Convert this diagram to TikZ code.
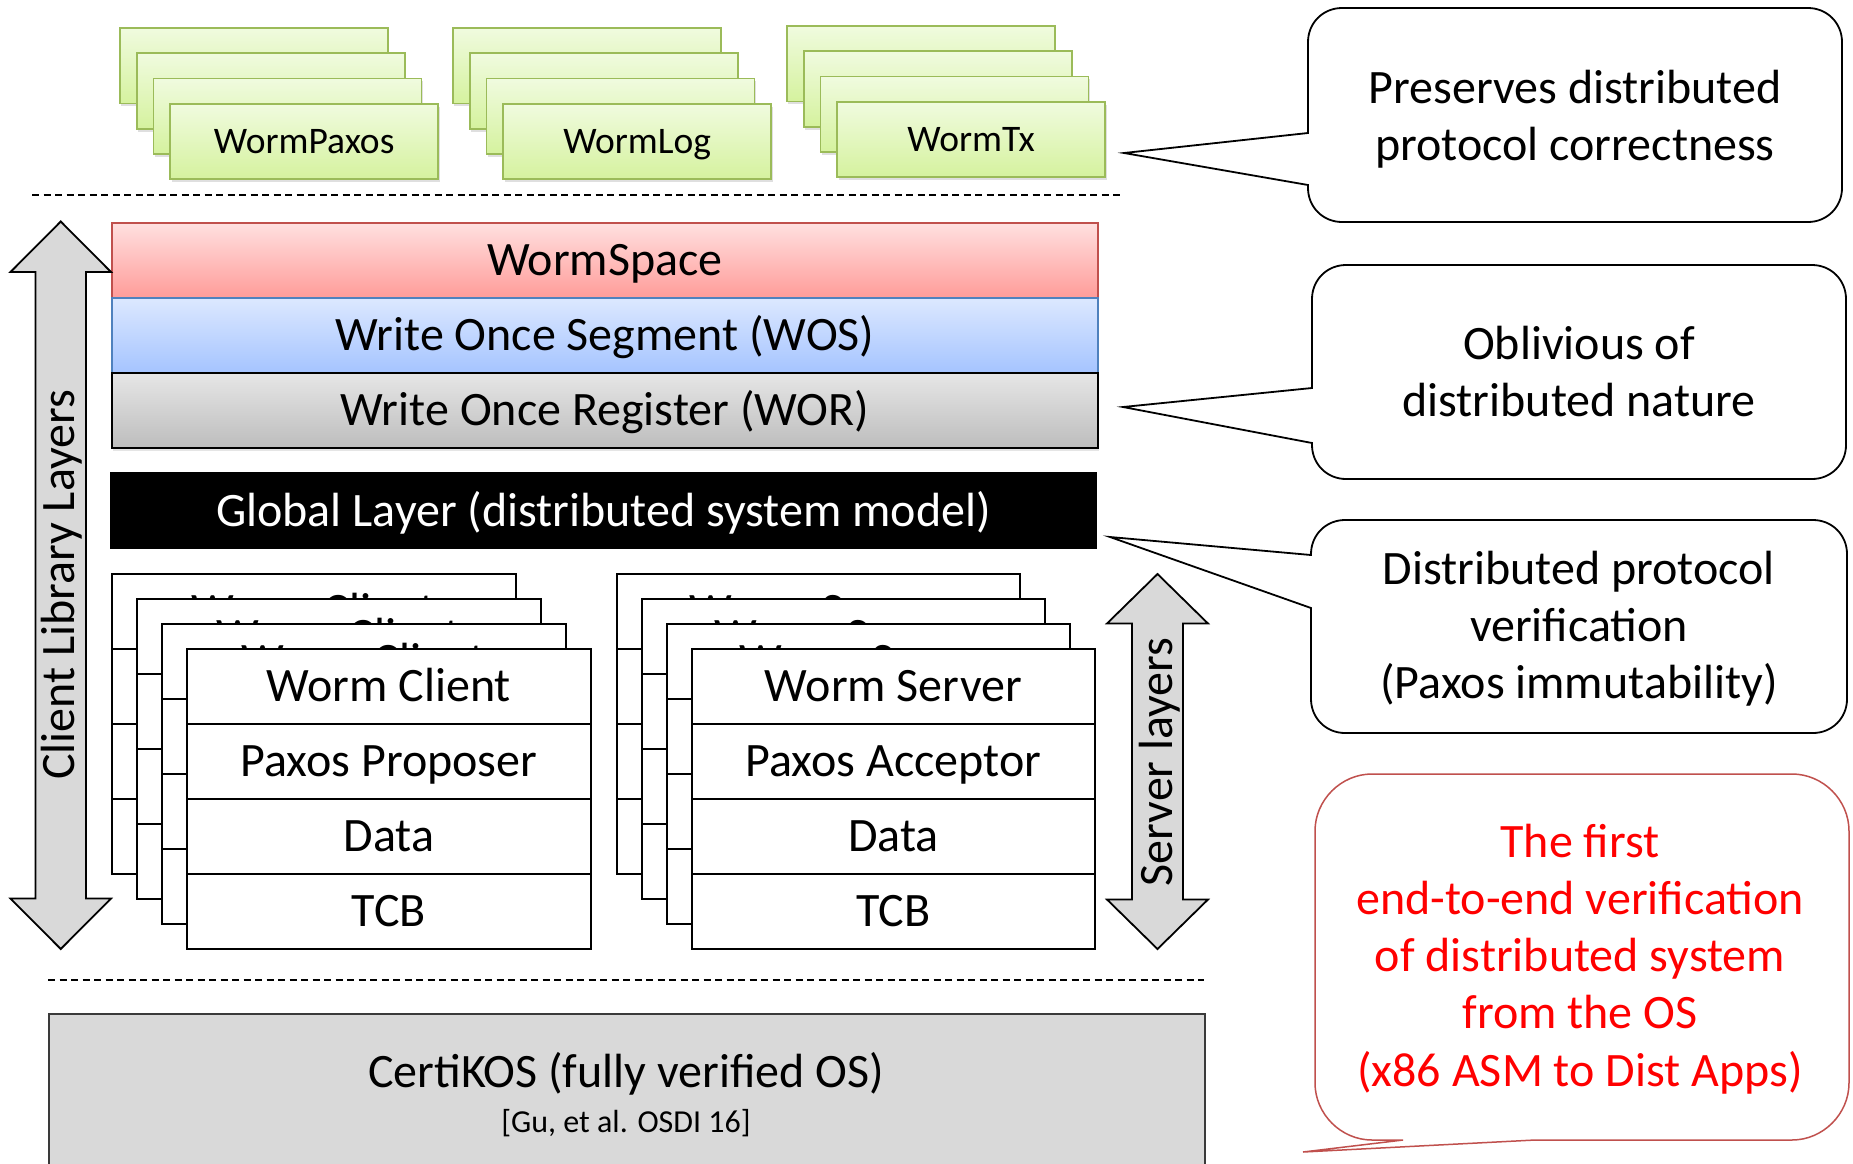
\documentclass[tikz,border=0pt]{standalone}
\usepackage{fontspec}
\setmainfont{Carlito}
\usetikzlibrary{shadows}
\definecolor{grnline}{HTML}{9BBB59}
\definecolor{grntop}{HTML}{F0FBDF}
\definecolor{grnbot}{HTML}{D5F29E}
\definecolor{redline}{HTML}{C0504D}
\definecolor{redtop}{HTML}{FFE0E0}
\definecolor{redbot}{HTML}{FF9C99}
\definecolor{blueline}{HTML}{4F81BD}
\definecolor{bluetop}{HTML}{DCE8FF}
\definecolor{bluebot}{HTML}{A5C4FF}
\definecolor{graytop}{HTML}{E6E6E6}
\definecolor{graybot}{HTML}{BDBDBD}
\definecolor{arrowgray}{HTML}{D9D9D9}
\definecolor{certfill}{HTML}{D9D9D9}
\definecolor{certline}{HTML}{3A3A3A}
\definecolor{calred}{HTML}{C0504D}
\definecolor{txtred}{HTML}{FF0000}
\begin{document}
\begin{tikzpicture}[x=1pt,y=-1pt,
  bigfont/.style={font=\fontsize{48}{58}\selectfont},
  grn/.style={draw=grnline, line width=1.8pt, top color=grntop, bottom color=grnbot,
    minimum width=268pt, minimum height=75.5pt, inner sep=0pt, anchor=north west,
    text height=23.5pt, text depth=0pt, font=\fontsize{37.5}{45}\selectfont,
    drop shadow={shadow xshift=1.5pt, shadow yshift=-3pt, opacity=0.25}},
  lay/.style={line width=1.8pt, minimum width=986pt, minimum height=75pt,
    inner sep=0pt, anchor=north west, text height=31pt, text depth=0pt, bigfont,
    drop shadow={shadow xshift=1pt, shadow yshift=-3pt, opacity=0.2}},
  rowbox/.style={draw=black, line width=1.8pt, fill=white, minimum width=404pt,
    minimum height=75pt, inner sep=0pt, anchor=north west, text height=31pt,
    text depth=0pt, bigfont},
  dblarrow/.style={draw=black, line width=1.8pt, fill=arrowgray, line join=miter},
  sepline/.style={dash pattern=on 7pt off 4.5pt, line width=1.8pt},
  callout/.style={draw=black, line width=1.8pt, fill=white, line join=miter},
  ctext/.style={anchor=base, inner sep=0pt, bigfont},
  vtext/.style={anchor=base, inner sep=0pt, rotate=90, bigfont}
]
\path[use as bounding box, fill=white] (0,0) rectangle (1853,1163);

% ---- top application stacks ----
\foreach \sx/\sy/\lab/\nm in {119/27/WormPaxos/p, 452/27/WormLog/l, 786/25/WormTx/t} {
  \foreach \i in {0,1,2} {
    \node[grn] (g\nm\i) at ({\sx+16.75*\i},{\sy+25.25*\i}) {};
  }
  \node[grn] (g\nm3) at ({\sx+50.25},{\sy+75.75}) {\lab};
}

% ---- separators ----
\coordinate (d1a) at (32,195);  \coordinate (d1b) at (1123,195);
\draw[sepline] (d1a) -- (d1b);
\coordinate (d2a) at (48,980);  \coordinate (d2b) at (1204,980);
\draw[sepline] (d2a) -- (d2b);

% ---- client library layers ----
\node[lay, draw=redline, top color=redtop, bottom color=redbot] (ws) at (111,222) {WormSpace};
\node[lay, draw=blueline, top color=bluetop, bottom color=bluebot] (wos) at (111,297) {Write Once Segment (WOS)};
\node[lay, draw=black, top color=graytop, bottom color=graybot] (wor) at (111,372) {Write Once Register (WOR)};
\node[draw=black, fill=black, text=white, line width=1pt, minimum width=986pt, minimum height=76pt,
  inner sep=0pt, anchor=north west, text height=31pt, text depth=0pt, bigfont] (gl) at (110,472)
  {Global Layer (distributed system model)};

% ---- client / server stacks ----
\foreach \i in {0,...,3} {
  \foreach \tx [count=\rr from 0] in {Worm Client,Paxos Proposer,Data,TCB}
    \node[rowbox] (c\i\rr) at ({111+25*\i},{573+25*\i+75*\rr}) {\tx};
  \foreach \tx [count=\rr from 0] in {Worm Server,Paxos Acceptor,Data,TCB}
    \node[rowbox, minimum width=403pt] (s\i\rr) at ({616+25*\i},{573+25*\i+75*\rr}) {\tx};
}

% ---- double arrows ----
\draw[dblarrow] (60.75,221.5) -- (111,272) -- (86,272) -- (86,898.5) -- (111,898.5)
  -- (60.75,949) -- (10.5,898.5) -- (35.5,898.5) -- (35.5,272) -- (10.5,272) -- cycle;
\node[vtext] (cll) at (74,585) {Client Library Layers};
\draw[dblarrow] (1157.5,574) -- (1208,623.5) -- (1183,623.5) -- (1183,899.5) -- (1208,899.5)
  -- (1157.5,949) -- (1107,899.5) -- (1132,899.5) -- (1132,623.5) -- (1107,623.5) -- cycle;
\node[vtext] (svl) at (1172,762) {Server layers};

% ---- CertiKOS ----
\node[draw=certline, fill=certfill, line width=1.8pt, minimum width=1156pt, minimum height=165pt,
  anchor=north west, inner sep=0pt] (os) at (48,1013) {};
\node[ctext] (ostxt) at (626,1087) {CertiKOS (fully verified OS)};
\node[anchor=base, inner sep=0pt, font=\fontsize{32}{38}\selectfont] (cite) at (626,1132) {[Gu, et al. OSDI 16]};

% ---- callouts ----
\coordinate (t1) at (1124,153);
\draw[callout] (1308,133) -- (1308,42) .. controls (1308,23) and (1323,8) .. (1342,8)
  -- (1808,8) .. controls (1827,8) and (1842,23) .. (1842,42)
  -- (1842,188) .. controls (1842,207) and (1827,222) .. (1808,222)
  -- (1342,222) .. controls (1323,222) and (1308,207) .. (1308,188)
  -- (1308,185) -- (t1) -- cycle;
\node[ctext] (c1a) at (1575,103) {Preserves distributed};
\node[ctext] (c1b) at (1575,160) {protocol correctness};

\coordinate (t2) at (1123,407);
\draw[callout] (1312,388) -- (1312,299) .. controls (1312,280) and (1327,265) .. (1346,265)
  -- (1812,265) .. controls (1831,265) and (1846,280) .. (1846,299)
  -- (1846,445) .. controls (1846,464) and (1831,479) .. (1812,479)
  -- (1346,479) .. controls (1327,479) and (1312,464) .. (1312,445)
  -- (1312,443) -- (t2) -- cycle;
\node[ctext] (c2a) at (1579,359) {Oblivious of};
\node[ctext] (c2b) at (1579,416) {distributed nature};

\coordinate (t3) at (1110,537);
\draw[callout] (1311,555) -- (1311,554) .. controls (1311,535) and (1326,520) .. (1345,520)
  -- (1813,520) .. controls (1832,520) and (1847,535) .. (1847,554)
  -- (1847,699) .. controls (1847,718) and (1832,733) .. (1813,733)
  -- (1345,733) .. controls (1326,733) and (1311,718) .. (1311,699)
  -- (1311,608) -- (t3) -- cycle;
\node[ctext] (c3a) at (1579,584) {Distributed protocol};
\node[ctext] (c3b) at (1579,641) {verification};
\node[ctext] (c3c) at (1579,698) {(Paxos immutability)};

\coordinate (t4) at (1303,1152);
\draw[callout, draw=calred, line width=1.5pt] (1403,1140) -- (t4) -- (1535,1140)
  -- (1792,1140) .. controls (1823,1140) and (1849,1114) .. (1849,1083)
  -- (1849,831) .. controls (1849,800) and (1823,774) .. (1792,774)
  -- (1372,774) .. controls (1341,774) and (1315,800) .. (1315,831)
  -- (1315,1083) .. controls (1315,1114) and (1341,1140) .. (1372,1140) -- cycle;
\node[ctext, text=txtred] (c4a) at (1580,857) {The first};
\node[ctext, text=txtred] (c4b) at (1580,914) {end-to-end verification};
\node[ctext, text=txtred] (c4c) at (1580,971) {of distributed system};
\node[ctext, text=txtred] (c4d) at (1580,1028) {from the OS};
\node[ctext, text=txtred] (c4e) at (1580,1086) {(x86 ASM to Dist Apps)};
\end{tikzpicture}
\end{document}
